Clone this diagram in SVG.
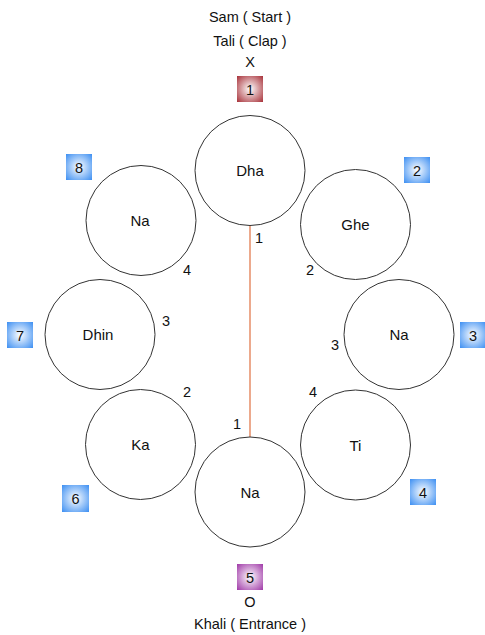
<svg xmlns="http://www.w3.org/2000/svg" width="485" height="635" viewBox="0 0 485 635">
<defs>
<radialGradient id="gBlue" cx="50%" cy="50%" r="70%">
<stop offset="0" stop-color="#ffffff"/>
<stop offset="1" stop-color="#3d8ff2"/>
</radialGradient>
<radialGradient id="gRed" cx="50%" cy="50%" r="70%">
<stop offset="0" stop-color="#ffffff"/>
<stop offset="1" stop-color="#a8323a"/>
</radialGradient>
<radialGradient id="gPurple" cx="50%" cy="50%" r="70%">
<stop offset="0" stop-color="#ffffff"/>
<stop offset="1" stop-color="#a03aa8"/>
</radialGradient>
</defs>
<style>
text{font-family:"Liberation Sans",Arial,sans-serif;fill:#111;text-anchor:middle}
.c{fill:#fff;stroke:#333;stroke-width:1}
.lbl{font-size:15px}
.t{font-size:14.5px}
.n{font-size:14.5px}
.box{stroke:none}
</style>
<rect width="485" height="635" fill="#fff"/>
<g id="connectors">
<line x1="250" y1="226" x2="250" y2="437" stroke="#e07040" stroke-width="1.2"/>
</g>
<g id="title">
<text class="t" x="250" y="22">Sam ( Start )</text>
<text class="t" x="250" y="46">Tali ( Clap )</text>
<text class="t" x="250" y="67">X</text>
</g>
<g id="bottom-title">
<text class="t" x="250" y="607">O</text>
<text class="t" x="250" y="629">Khali ( Entrance )</text>
</g>
<g id="node-dha"><circle class="c" cx="250" cy="170.5" r="55"/><text class="lbl" x="250" y="176">Dha</text></g>
<g id="node-ghe"><circle class="c" cx="355.5" cy="224.5" r="55"/><text class="lbl" x="355.5" y="230">Ghe</text></g>
<g id="node-na-right"><circle class="c" cx="399" cy="334.5" r="55"/><text class="lbl" x="399" y="340">Na</text></g>
<g id="node-ti"><circle class="c" cx="355.5" cy="445" r="55"/><text class="lbl" x="355.5" y="450.5">Ti</text></g>
<g id="node-na-bottom"><circle class="c" cx="250" cy="492" r="55"/><text class="lbl" x="250" y="497.5">Na</text></g>
<g id="node-ka"><circle class="c" cx="140.5" cy="444.5" r="55"/><text class="lbl" x="140.5" y="450">Ka</text></g>
<g id="node-dhin"><circle class="c" cx="100" cy="334.5" r="55"/><text class="lbl" x="98" y="340">Dhin</text></g>
<g id="node-na-left"><circle class="c" cx="141" cy="220.5" r="55"/><text class="lbl" x="140" y="226">Na</text></g>
<g id="counts">
<text class="n" x="259" y="243">1</text>
<text class="n" x="310" y="275">2</text>
<text class="n" x="335" y="350">3</text>
<text class="n" x="313" y="397">4</text>
<text class="n" x="237" y="429">1</text>
<text class="n" x="187" y="397">2</text>
<text class="n" x="166" y="326">3</text>
<text class="n" x="187" y="275">4</text>
</g>
<g id="box-1"><rect class="box" x="237" y="76" width="26" height="26" fill="url(#gRed)"/><text class="n" x="250" y="94.5">1</text></g>
<g id="box-2"><rect class="box" x="404" y="157" width="26" height="26" fill="url(#gBlue)"/><text class="n" x="417" y="175.5">2</text></g>
<g id="box-3"><rect class="box" x="460" y="322" width="26" height="26" fill="url(#gBlue)"/><text class="n" x="473" y="340.5">3</text></g>
<g id="box-4"><rect class="box" x="410" y="479" width="26" height="26" fill="url(#gBlue)"/><text class="n" x="423" y="497.5">4</text></g>
<g id="box-5"><rect class="box" x="237" y="564" width="26" height="26" fill="url(#gPurple)"/><text class="n" x="250" y="582.5">5</text></g>
<g id="box-6"><rect class="box" x="62" y="485" width="27" height="27" fill="url(#gBlue)"/><text class="n" x="75.5" y="504">6</text></g>
<g id="box-7"><rect class="box" x="7" y="322" width="26" height="26" fill="url(#gBlue)"/><text class="n" x="20" y="340.5">7</text></g>
<g id="box-8"><rect class="box" x="66" y="154" width="26" height="26" fill="url(#gBlue)"/><text class="n" x="79" y="172.5">8</text></g>
</svg>
